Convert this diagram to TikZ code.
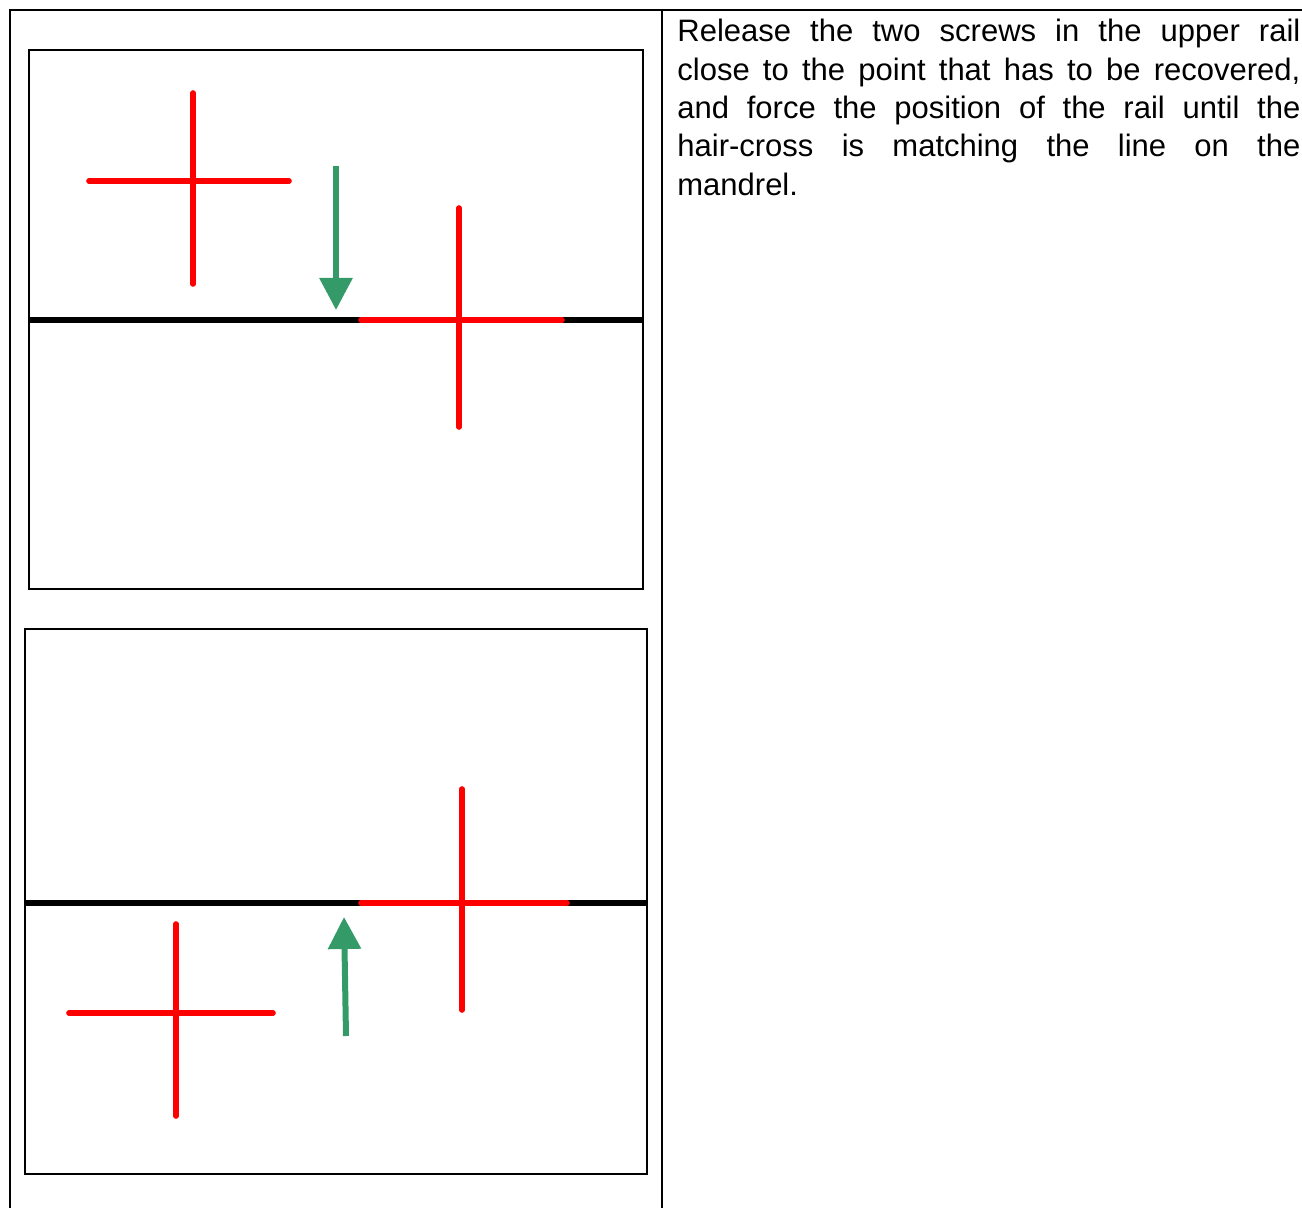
\documentclass[tikz,border=0pt]{standalone}
\usepackage{fontspec}
\setmainfont{Liberation Sans}
\usetikzlibrary{arrows.meta}
\begin{document}
\begin{tikzpicture}[x=0.5pt,y=-0.5pt,
  frame/.style={line width=1pt},
  rail/.style={line width=3pt},
  hair/.style={red,line width=2.8pt,line cap=round},
  push/.style={draw=pushgreen,line width=3pt,-{Triangle[width=16pt,length=16pt,fill=pushgreen]}}]
\definecolor{pushgreen}{RGB}{52,155,104}
\useasboundingbox (0,0) rectangle (1302,1208);
% table lines
\draw[frame] (10,1208) -- (10,10) -- (1302,10);
\draw[frame] (662,10) -- (662,1208);
% upper view
\draw[frame] (29,50) rectangle (643,589);
\draw[rail] (29,320) -- (643,320);
\draw[hair] (89,181) -- (289,181) (193,93) -- (193,284);
\draw[hair] (361,320) -- (562,320) (459,208) -- (459,427);
\coordinate (downstart) at (336,166);
\coordinate (downtip) at (336,310);
\draw[push] (downstart) -- (downtip);
% lower view
\draw[frame] (25,629) rectangle (647,1174);
\draw[rail] (25,903) -- (647,903);
\draw[hair] (361,903) -- (567,903) (462,789) -- (462,1010);
\draw[hair] (69,1013) -- (273,1013) (176,924) -- (176,1116);
\coordinate (upstart) at (346,1036);
\coordinate (uptip) at (344,917);
\draw[push] (upstart) -- (uptip);
% instruction
\node[anchor=north west,inner sep=0pt,text width=311.5pt,align=justify,
  font=\fontsize{15.5}{19.15}\selectfont] (note) at (677,19)
  {Release the two screws in the upper rail\linebreak
   close to the point that has to be recovered,\linebreak
   and force the position of the rail until the\linebreak
   hair-cross is matching the line on the\linebreak
   mandrel.};
\end{tikzpicture}
\end{document}
